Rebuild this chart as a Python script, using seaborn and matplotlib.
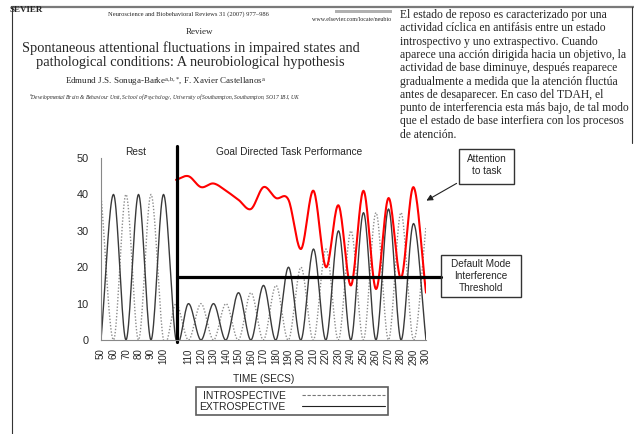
import numpy as np
import pandas as pd
import matplotlib
matplotlib.use("Agg")
import matplotlib.pyplot as plt
import seaborn as sns
from matplotlib.patches import Rectangle
from matplotlib.lines import Line2D

# categories on the x axis (one empty slot where the task starts)
time_labels = ['50', '60', '70', '80', '90', '100', '',
               '110', '120', '130', '140', '150', '160', '170', '180', '190', '200',
               '210', '220', '230', '240', '250', '260', '270', '280', '290', '300']

extrospective = [0, 40, 0, 40, 0, 40, 0, 10, 0, 10, 0, 13, 0, 15, 0,
                 20, 0, 25, 0, 30, 0, 35, 0, 36, 0, 32, 0]
introspective = [40, 0, 40, 0, 40, 0, 10, 0, 10, 0, 10, 0, 13, 0, 15,
                 0, 20, 0, 25, 0, 30, 0, 35, 0, 35, 0, 31]

# attention to task, starts at the empty slot
attention = [44, 45, 42, 43, 41, 38.5, 36, 42, 39, 38.5, 25, 41, 20, 37,
             15, 41, 14, 39, 17, 42, 13]
attention_start = 6

threshold = 17.4
task_onset = 6.1

spanish_text = [
    "El estado de reposo es caracterizado por una",
    "actividad cíclica en antifásis entre un estado",
    "introspectivo y uno extraspectivo. Cuando",
    "aparece una acción dirigida hacia un objetivo, la",
    "actividad de base diminuye, después reaparece",
    "gradualmente a medida que la atención fluctúa",
    "antes de desaparecer. En caso del TDAH, el",
    "punto de interferencia esta más bajo, de tal modo",
    "que el estado de base interfiera con los procesos",
    "de atención.",
]

W, H = 634, 434


def fx(px):
    return px / W


def fy(py):
    return 1 - py / H


def smooth_curve(values, start=0, steps=20):
    # excel-like smoothed line (cubic hermite / catmull-rom through the points)
    y = np.asarray(values, dtype=float)
    x = np.arange(len(y)) + start
    m = np.gradient(y)
    t = np.linspace(0, 1, steps, endpoint=False)[:, None]
    h00 = 2 * t**3 - 3 * t**2 + 1
    h10 = t**3 - 2 * t**2 + t
    h01 = -2 * t**3 + 3 * t**2
    h11 = t**3 - t**2
    ys = h00 * y[:-1] + h10 * m[:-1] + h01 * y[1:] + h11 * m[1:]
    xs = x[:-1] + t
    xs = np.append(xs.T.ravel(), x[-1])
    ys = np.append(ys.T.ravel(), y[-1])
    return pd.DataFrame({'x': xs, 'y': ys})


sns.set_style("white")
plt.rcParams['font.family'] = ['Liberation Sans', 'DejaVu Sans']
plt.rcParams['mathtext.fontset'] = 'custom'
plt.rcParams['mathtext.rm'] = 'Liberation Serif'
plt.rcParams['mathtext.it'] = 'Liberation Serif:italic'

fig = plt.figure(figsize=(6.34, 4.34), dpi=100, facecolor='white')
ax = fig.add_axes([fx(101), fy(340), (426 - 101) / W, (340 - 158) / H])

sns.lineplot(data=smooth_curve(introspective), x='x', y='y', ax=ax,
             color='#8c8c8c', lw=1.0, linestyle=(0, (1, 1.3)),
             estimator=None, sort=False)
sns.lineplot(data=smooth_curve(extrospective), x='x', y='y', ax=ax,
             color='#3a3a3a', lw=1.0, estimator=None, sort=False)
sns.lineplot(data=smooth_curve(attention, start=attention_start), x='x', y='y', ax=ax,
             color='#ff0000', lw=1.5, estimator=None, sort=False)

ax.set_xlim(0, 26)
ax.set_ylim(0, 50)
ax.set_xticks(range(len(time_labels)))
ax.set_xticklabels(time_labels, rotation=90, fontsize=7)
ax.set_yticks(range(0, 51, 10))
ax.tick_params(axis='y', labelsize=7.8, length=3, color='#888', pad=6)
ax.tick_params(axis='x', length=3, color='#888', pad=3)
ax.set_xlabel('TIME (SECS)', fontsize=7.3, labelpad=7)
ax.set_ylabel('')
sns.despine(ax=ax)
for side in ['left', 'bottom']:
    ax.spines[side].set_color('#888')
    ax.spines[side].set_linewidth(0.8)

# task onset and interference threshold
ax.axvline(task_onset, ymin=-0.012, ymax=1.066, color='black', lw=2.3, clip_on=False)
ax.axhline(threshold, xmin=task_onset / 26, xmax=(441 - 101) / 325,
           color='black', lw=2.3, clip_on=False)

fig.text(fx(135.5), fy(152), 'Rest', ha='center', va='center', fontsize=7.3)
fig.text(fx(289), fy(152), 'Goal Directed Task Performance', ha='center', va='center',
         fontsize=7.3)

# callout boxes
fig.add_artist(Rectangle((fx(459), fy(183.5)), (514 - 459) / W, (183.5 - 149) / H,
                         transform=fig.transFigure, fill=False, ec='#333', lw=1.0))
fig.text(fx(486.5), fy(165), 'Attention\nto task', ha='center', va='center',
         fontsize=7.2, linespacing=1.35)
ax.annotate('', xy=(fx(424), fy(202)), xytext=(fx(459), fy(182)),
            xycoords='figure fraction', textcoords='figure fraction',
            arrowprops=dict(arrowstyle='-|>', color='#222', lw=0.8, mutation_scale=9))

fig.add_artist(Rectangle((fx(441), fy(297)), (521 - 441) / W, (297 - 255) / H,
                         transform=fig.transFigure, fill=False, ec='#333', lw=1.0))
fig.text(fx(481), fy(276), 'Default Mode\nInterference\nThreshold', ha='center',
         va='center', fontsize=7.2, linespacing=1.22)

handles = [Line2D([], [], color='#777', lw=0.8, linestyle=(0, (3, 1.5))),
           Line2D([], [], color='#222', lw=0.8)]
leg = ax.legend(handles, ['INTROSPECTIVE', 'EXTROSPECTIVE'], markerfirst=False,
                loc='upper left', bbox_to_anchor=(fx(196), fy(387)),
                bbox_transform=fig.transFigure, frameon=True, fancybox=False,
                edgecolor='#333', fontsize=7.4, handlelength=8, handletextpad=1.6,
                labelspacing=0.1, borderpad=0.35, borderaxespad=0)
leg.get_frame().set_linewidth(1.2)

# page of the paper behind the chart
serif = ['Liberation Serif', 'DejaVu Serif']
fig.add_artist(Line2D([fx(12), fx(634)], [fy(7), fy(7)], transform=fig.transFigure,
                      color='#7a7a7a', lw=1.6))
fig.add_artist(Line2D([fx(12), fx(12)], [fy(7), fy(434)], transform=fig.transFigure,
                      color='#333', lw=0.8))
fig.add_artist(Line2D([fx(632), fx(632)], [fy(7), fy(143)], transform=fig.transFigure,
                      color='#333', lw=0.8))
fig.add_artist(Rectangle((fx(335), fy(13)), (392 - 335) / W, 3 / H,
                         transform=fig.transFigure, color='#b0b0b0', lw=0))

fig.text(fx(10), fy(10), 'SEVIER', family=serif, weight='bold', fontsize=6.5,
         ha='left', va='center')
fig.text(fx(188), fy(14), 'Neuroscience and Biobehavioral Reviews 31 (2007) 977–986',
         family=serif, fontsize=4.7, ha='center', va='center')
fig.text(fx(391), fy(19.5), 'www.elsevier.com/locate/neubio', family=serif,
         fontsize=4.3, ha='right', va='center')
fig.text(fx(200), fy(32), 'Review', family=serif, fontsize=6.5, ha='center', va='center')
fig.text(fx(191), fy(48.3), 'Spontaneous attentional fluctuations in impaired states and',
         family=serif, fontsize=10.4, ha='center', va='center')
fig.text(fx(190), fy(62.7), 'pathological conditions: A neurobiological hypothesis',
         family=serif, fontsize=10.4, ha='center', va='center')
fig.text(fx(165.5), fy(81.7),
         r'Edmund J.S. Sonuga-Barke$^{\mathrm{a,b,}{*}}$, F. Xavier Castellanos$^{\mathrm{a}}$',
         family=serif, fontsize=6.5, ha='center', va='center')
fig.text(fx(165), fy(96.7),
         r'$^{\mathrm{a}}$Developmental Brain & Behaviour Unit, School of Psychology, '
         r'University of Southampton, Southampton, SO17 1BJ, UK',
         family=serif, style='italic', fontsize=4.0, ha='center', va='center')

for i, line in enumerate(spanish_text):
    fig.text(fx(400), fy(15 + i * 13.3), line, family=serif, fontsize=8.4,
             ha='left', va='center')

fig.savefig('out.png', dpi=100, facecolor='white')
